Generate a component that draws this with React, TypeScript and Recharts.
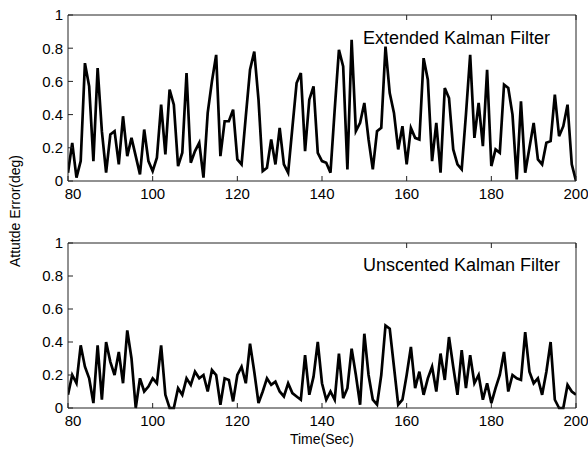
import React from "react";
import { LineChart, Line, XAxis, YAxis } from "recharts";

const startTime = 80;
const ekfError = [
	0.05, 0.23, 0.02, 0.12, 0.71, 0.57, 0.12, 0.68, 0.3, 0.05,
	0.28, 0.3, 0.1, 0.39, 0.15, 0.26, 0.15, 0.04, 0.31, 0.12,
	0.06, 0.14, 0.46, 0.16, 0.55, 0.46, 0.09, 0.17, 0.65, 0.11,
	0.18, 0.23, 0.02, 0.41, 0.6, 0.76, 0.15, 0.36, 0.36, 0.43,
	0.13, 0.1, 0.39, 0.67, 0.78, 0.49, 0.06, 0.08, 0.25, 0.1,
	0.32, 0.1, 0.05, 0.32, 0.59, 0.65, 0.18, 0.49, 0.57, 0.17,
	0.12, 0.11, 0.05, 0.43, 0.79, 0.69, 0.07, 0.85, 0.3, 0.35,
	0.47, 0.25, 0.07, 0.3, 0.32, 0.81, 0.53, 0.41, 0.19, 0.33,
	0.1, 0.32, 0.26, 0.25, 0.74, 0.61, 0.12, 0.35, 0.05, 0.56,
	0.5, 0.19, 0.1, 0.07, 0.4, 0.76, 0.26, 0.47, 0.21, 0.67,
	0.09, 0.19, 0.17, 0.58, 0.56, 0.4, 0.01, 0.48, 0.05, 0.2,
	0.35, 0.13, 0.1, 0.23, 0.24, 0.52, 0.27, 0.33, 0.46, 0.1,
	0.0,
];
const ukfError = [
	0.08, 0.2, 0.15, 0.38, 0.25, 0.18, 0.03, 0.38, 0.05, 0.4,
	0.28, 0.2, 0.34, 0.15, 0.47, 0.3, 0.0, 0.18, 0.1, 0.13,
	0.18, 0.15, 0.38, 0.08, 0.0, 0.0, 0.12, 0.08, 0.18, 0.14,
	0.22, 0.18, 0.2, 0.1, 0.23, 0.2, 0.02, 0.18, 0.17, 0.04,
	0.2, 0.25, 0.15, 0.39, 0.22, 0.03, 0.1, 0.18, 0.14, 0.16,
	0.1, 0.07, 0.15, 0.09, 0.07, 0.05, 0.32, 0.08, 0.19, 0.4,
	0.15, 0.05, 0.1, 0.05, 0.33, 0.06, 0.12, 0.36, 0.2, 0.02,
	0.45, 0.2, 0.05, 0.02, 0.2, 0.5, 0.48, 0.25, 0.02, 0.05,
	0.2, 0.37, 0.12, 0.22, 0.08, 0.18, 0.25, 0.1, 0.33, 0.17,
	0.43, 0.25, 0.08, 0.35, 0.12, 0.32, 0.15, 0.2, 0.05, 0.15,
	0.03, 0.12, 0.2, 0.34, 0.1, 0.2, 0.18, 0.17, 0.46, 0.22,
	0.15, 0.18, 0.08, 0.22, 0.4, 0.05, 0.0, 0.0, 0.14, 0.1,
	0.08,
];
const xTicks = [80, 100, 120, 140, 160, 180, 200];
const yTicks = [0, 0.2, 0.4, 0.6, 0.8, 1];

const ekfData = ekfError.map((v, i) => ({ t: startTime + i, err: v }));
const ukfData = ukfError.map((v, i) => ({ t: startTime + i, err: v }));

const font = "'Liberation Sans', Arial, sans-serif";
const axisColor = "#222";
const tickStyle = { fill: "#000", fontSize: 15, fontFamily: font };
const blank = () => "";

// first x label sits a little right of the corner, like the matlab original
const TimeTick = (props: any) => {
	const { x, y, payload } = props;
	const shift = payload.value === 80 ? 5 : 0;
	return (
		<text x={x + shift} y={y} dy="0.71em" textAnchor="middle" fill="#000" fontSize={15} fontFamily={font}>
			{payload.value}
		</text>
	);
};

const Panel = ({ data, top, bottom, topAxis, xHeight, title, titleTop, showTime }: any) => (
	<div style={{ position: "absolute", left: 0, top }}>
		<LineChart width={588} height={225} data={data} margin={{ top: 0, right: 0, bottom, left: 0 }}>
			<XAxis
				dataKey="t"
				type="number"
				domain={[80, 200]}
				ticks={xTicks}
				allowDataOverflow
				stroke={axisColor}
				tick={TimeTick}
				tickSize={-5}
				tickMargin={12}
				height={xHeight}
				label={
					showTime
						? { value: "Time(Sec)", position: "insideBottom", offset: 4, fill: "#000", fontSize: 14, fontFamily: font }
						: undefined
				}
			/>
			<XAxis
				xAxisId="top"
				orientation="top"
				type="number"
				domain={[80, 200]}
				ticks={xTicks}
				stroke={axisColor}
				tickFormatter={blank}
				tickSize={-5}
				height={topAxis}
			/>
			<YAxis
				type="number"
				domain={[0, 1]}
				ticks={yTicks}
				stroke={axisColor}
				tick={tickStyle}
				tickFormatter={(v: number) => String(v)}
				tickSize={-5}
				tickMargin={10}
				width={68}
			/>
			<YAxis
				yAxisId="r"
				orientation="right"
				type="number"
				domain={[0, 1]}
				ticks={yTicks}
				stroke={axisColor}
				tickFormatter={blank}
				tickSize={-5}
				width={12}
			/>
			<Line
				type="linear"
				dataKey="err"
				stroke="#000"
				strokeWidth={2.7}
				dot={false}
				isAnimationActive={false}
			/>
		</LineChart>
		<div
			style={{
				position: "absolute",
				left: 363,
				top: titleTop,
				fontFamily: font,
				fontSize: 18,
				lineHeight: "18px",
				color: "#000",
				whiteSpace: "nowrap",
			}}
		>
			{title}
		</div>
	</div>
);

export default function App() {
	return (
		<div
			style={{
				position: "absolute",
				left: 0,
				top: 0,
				width: 588,
				height: 450,
				background: "#fff",
				overflow: "hidden",
			}}
		>
			<Panel data={ekfData} top={0} bottom={14} topAxis={15} xHeight={30} title="Extended Kalman Filter" titleTop={29} />
			<Panel data={ukfData} top={225} bottom={2} topAxis={18} xHeight={40} title="Unscented Kalman Filter" titleTop={31} showTime />
			<div
				style={{
					position: "absolute",
					left: 15,
					top: 211,
					transform: "translate(-50%, -50%) rotate(-90deg)",
					fontFamily: font,
					fontSize: 14,
					whiteSpace: "nowrap",
					color: "#000",
				}}
			>
				Attutde Error(deg)
			</div>
		</div>
	);
}
